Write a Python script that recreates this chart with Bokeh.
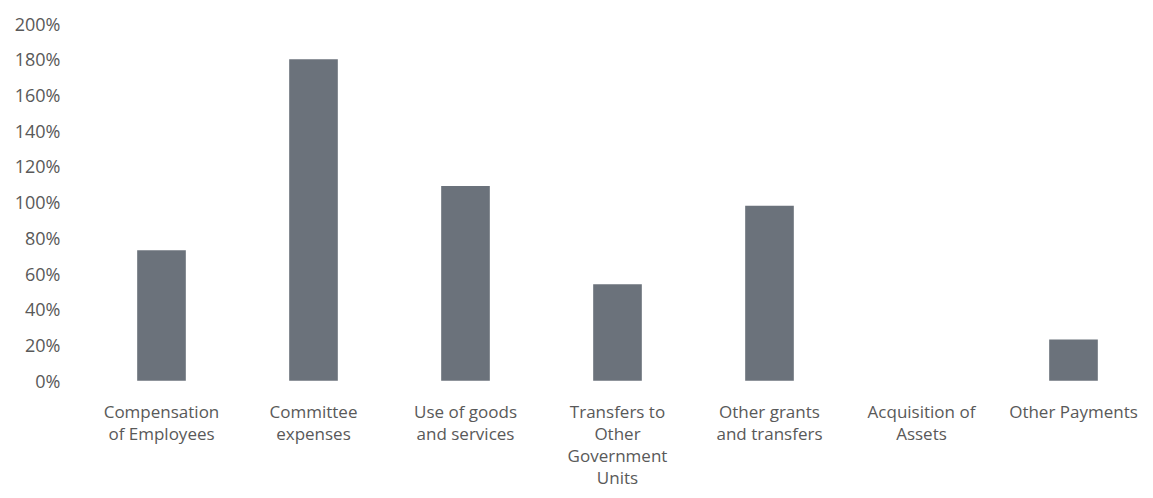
from bokeh.plotting import figure
from bokeh.models import ColumnDataSource, FactorRange, Range1d, FixedTicker, PrintfTickFormatter, LabelSet
from bokeh.core.properties import value
from bokeh.embed import file_html
from bokeh.resources import INLINE

categories = [
    "Compensation\nof Employees",
    "Committee\nexpenses",
    "Use of goods\nand services",
    "Transfers to\nOther\nGovernment\nUnits",
    "Other grants\nand transfers",
    "Acquisition of\nAssets",
    "Other Payments",
]
values = [73, 180, 109, 54, 98, 0, 23]
y_ticks = list(range(0, 201, 20))

src = ColumnDataSource(data=dict(cat=categories, val=values))

# one row per label line
lx, ltext, loff = [], [], []
for c in categories:
    for k, line in enumerate(c.split("\n")):
        lx.append(c)
        ltext.append(line)
        loff.append(-(31 + 22 * k))
lab_src = ColumnDataSource(data=dict(x=lx, y=[0] * len(lx), text=ltext, off=loff))

# frame extends below zero so that category labels fit inside it
p = figure(x_range=FactorRange(*categories, range_padding=0), y_range=Range1d(-66, 200),
           width=1153, height=498, output_backend="svg", toolbar_location=None,
           min_border_left=85, min_border_right=4, min_border_top=23, min_border_bottom=0)

p.vbar(x="cat", top="val", width=0.32, source=src, fill_color="#6b727b", line_color=None)

font = "Open Sans"
col = "#595959"

labels = LabelSet(x="x", y="y", text="text", y_offset="off", source=lab_src,
                  text_align="center", text_baseline="middle",
                  text_font=value(font), text_font_size=value("17px"), text_color=value(col))
p.add_layout(labels)

p.outline_line_color = None
p.xgrid.grid_line_color = None
p.ygrid.grid_line_color = None
p.background_fill_color = "white"
p.border_fill_color = "white"

p.xaxis.visible = False

p.yaxis.ticker = FixedTicker(ticks=y_ticks)
p.yaxis.formatter = PrintfTickFormatter(format="%d%%")
p.yaxis.axis_line_color = None
p.yaxis.major_tick_line_color = None
p.yaxis.minor_tick_line_color = None
p.yaxis.major_label_standoff = 19
p.yaxis.major_label_text_font = font
p.yaxis.major_label_text_font_size = "18px"
p.yaxis.major_label_text_color = col

open("out.html", "w").write(file_html(p, INLINE))
